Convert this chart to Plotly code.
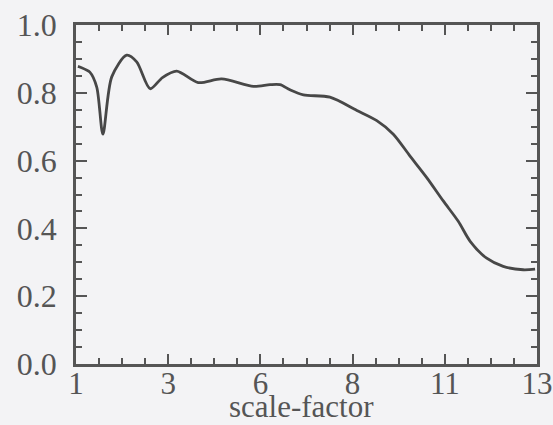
import plotly.graph_objects as go

# scale-factor values and response
scale_factor = [1.05, 1.1, 1.36, 1.54, 1.70, 1.93, 2.32, 2.58, 2.93, 3.25, 3.62, 4.18, 4.79, 5.62,
                6.05, 6.31, 6.57, 6.92, 7.61, 8.31, 8.83, 9.26, 9.69, 10.13, 10.56,
                10.95, 11.26, 11.69, 12.12, 12.64, 12.95]
response = [0.878, 0.876, 0.861, 0.817, 0.678, 0.847, 0.911, 0.891, 0.812, 0.845, 0.864, 0.830,
            0.841, 0.819, 0.824, 0.824, 0.809, 0.794, 0.787, 0.748, 0.718, 0.678,
            0.614, 0.550, 0.481, 0.421, 0.362, 0.312, 0.288, 0.278, 0.280]

x_tickvals = [1, 3.4, 5.8, 8.2, 10.6, 13]
x_ticktext = ["1", "3", "6", "8", "11", "13"]
y_tickvals = [0.0, 0.2, 0.4, 0.6, 0.8, 1.0]
y_ticktext = ["0.0", "0.2", "0.4", "0.6", "0.8", "1.0"]
x_title = "scale-factor"

axis_col = "#555555"
tick_font = dict(family="Liberation Serif, Times New Roman, serif", size=32, color="#555555")
xtick_font = dict(family="Liberation Serif, Times New Roman, serif", size=31, color="#555555")
title_font = dict(family="Liberation Serif, Times New Roman, serif", size=31, color="#555555")

fig = go.Figure()
fig.add_trace(go.Scatter(x=scale_factor, y=response, mode="lines",
                         line=dict(color="#474747", width=2.8, shape="spline", smoothing=0.8),
                         showlegend=False, hoverinfo="skip"))

fig.update_layout(
    width=553, height=425,
    margin=dict(l=76, r=16, t=25, b=61),
    paper_bgcolor="#f3f3f5", plot_bgcolor="#f3f3f5",
    font=tick_font,
)
fig.update_xaxes(
    range=[1, 13], tickmode="array", tickvals=x_tickvals, ticktext=x_ticktext,
    ticks="inside", ticklen=10, tickwidth=2, tickcolor=axis_col,
    showline=True, linewidth=2.5, linecolor=axis_col, mirror="ticks",
    showgrid=False, zeroline=False, automargin=False, ticklabeloverflow="allow",
    minor=dict(tickmode="linear", tick0=1, dtick=0.6, ticks="inside", ticklen=6,
               tickwidth=2, tickcolor=axis_col, showgrid=False),
    tickfont=xtick_font, ticklabelstandoff=-10,
)
fig.update_yaxes(
    range=[0, 1], tickmode="array", tickvals=y_tickvals, ticktext=y_ticktext,
    ticks="inside", ticklen=11, tickwidth=2, tickcolor=axis_col,
    showline=True, linewidth=2.5, linecolor=axis_col, mirror="ticks",
    showgrid=False, zeroline=False, automargin=False, ticklabeloverflow="allow",
    minor=dict(tickmode="linear", tick0=0, dtick=0.05, ticks="inside", ticklen=6,
               tickwidth=2, tickcolor=axis_col, showgrid=False),
    tickfont=tick_font, ticklabelstandoff=10,
)
fig.add_annotation(text=x_title, xref="paper", yref="paper", x=0.49, y=0,
                   xanchor="center", yanchor="bottom", yshift=-62,
                   showarrow=False, font=title_font)

fig.write_html("out.html")
